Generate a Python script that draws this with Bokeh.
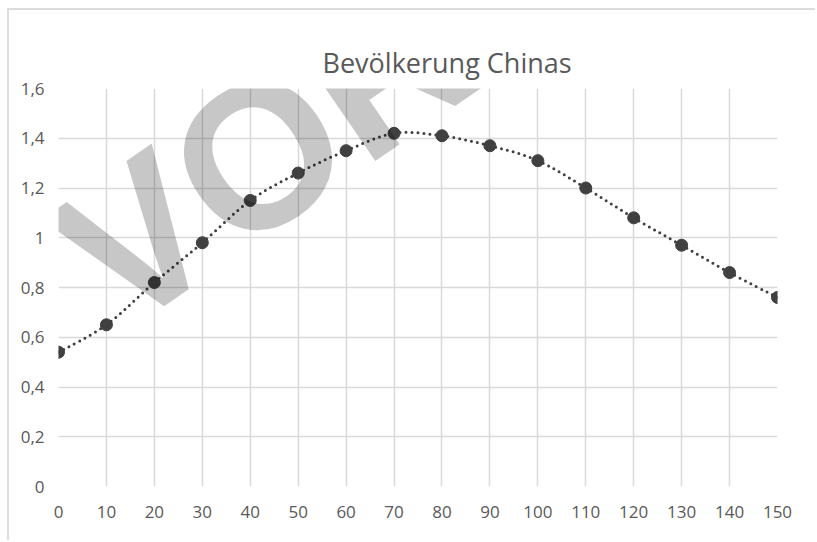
from bokeh.plotting import figure
from bokeh.models import (ColumnDataSource, FixedTicker, CustomJSTickFormatter,
                          Range1d, Label)
from bokeh.embed import file_html
from bokeh.resources import INLINE

# Bevölkerung Chinas (Mrd.) über die Jahre
jahre = [0, 10, 20, 30, 40, 50, 60, 70, 80, 90, 100, 110, 120, 130, 140, 150]
bevoelkerung = [0.54, 0.65, 0.82, 0.98, 1.15, 1.26, 1.35, 1.42, 1.41, 1.37,
                1.31, 1.20, 1.08, 0.97, 0.86, 0.76]
x_ticks = list(range(0, 151, 10))
y_ticks = [0, 0.2, 0.4, 0.6, 0.8, 1.0, 1.2, 1.4, 1.6]

FG = "#595959"
GRID = "#d9d9d9"
DARK = "#404040"

p = figure(width=808, height=532, output_backend="svg", toolbar_location=None,
           x_range=Range1d(0, 150), y_range=Range1d(0, 1.6),
           min_border_left=49, min_border_right=40, min_border_top=78,
           min_border_bottom=56, outline_line_color=None)
p.styles = {"margin-left": "7px", "margin-top": "8px",
            "border-left": "2px solid #dcdcdc", "border-top": "2px solid #dcdcdc"}

p.title.text = "Bevölkerung Chinas"
p.title.text_font = "Open Sans"
p.title.text_font_style = "normal"
p.title.text_font_size = "27px"
p.title.text_color = FG
p.title.align = "left"
p.title.offset = 264
p.title.standoff = 15

for ax in (p.xaxis[0], p.yaxis[0]):
    ax.axis_line_color = None
    ax.major_tick_line_color = None
    ax.minor_tick_line_color = None
    ax.major_label_text_font = "Open Sans"
    ax.major_label_text_font_size = "17px"
    ax.major_label_text_color = FG

p.xaxis.ticker = FixedTicker(ticks=x_ticks)
p.yaxis.ticker = FixedTicker(ticks=y_ticks)
p.xaxis.major_label_standoff = 13
p.yaxis.major_label_standoff = 8
p.yaxis.formatter = CustomJSTickFormatter(
    code="return (Math.round(tick * 10) / 10).toString().replace('.', ',');")

p.xgrid.ticker = FixedTicker(ticks=x_ticks)
p.ygrid.ticker = FixedTicker(ticks=y_ticks)
for g in (p.xgrid[0], p.ygrid[0]):
    g.grid_line_color = GRID
    g.grid_line_width = 1.5

# smoothed connecting curve: cubic Bezier segments through the data points
n = len(jahre)
x0, y0, x1, y1, cx0, cy0, cx1, cy1 = ([] for _ in range(8))
for i in range(n - 1):
    ip = max(i - 1, 0)
    inn = min(i + 2, n - 1)
    x0.append(jahre[i]); y0.append(bevoelkerung[i])
    x1.append(jahre[i + 1]); y1.append(bevoelkerung[i + 1])
    cx0.append(jahre[i] + (jahre[i + 1] - jahre[ip]) / 6)
    cy0.append(bevoelkerung[i] + (bevoelkerung[i + 1] - bevoelkerung[ip]) / 6)
    cx1.append(jahre[i + 1] - (jahre[inn] - jahre[i]) / 6)
    cy1.append(bevoelkerung[i + 1] - (bevoelkerung[inn] - bevoelkerung[i]) / 6)

curve = ColumnDataSource(dict(x0=x0, y0=y0, x1=x1, y1=y1,
                              cx0=cx0, cy0=cy0, cx1=cx1, cy1=cy1))
p.bezier(x0="x0", y0="y0", x1="x1", y1="y1", cx0="cx0", cy0="cy0",
         cx1="cx1", cy1="cy1", source=curve, line_color=DARK, line_width=3,
         line_dash="0 6", line_cap="round")

pts = ColumnDataSource(dict(x=jahre, y=bevoelkerung))
p.scatter("x", "y", source=pts, size=12, fill_color=DARK, line_color=DARK)

# preview watermark across the chart
wm = Label(x=54, y=143, x_units="screen", y_units="screen",
           x_offset=-33, y_offset=66, text="VORSCHAU",
           angle=0.602, text_font="Liberation Sans", text_font_style="bold",
           text_font_size="205px", text_color="black", text_alpha=0.22,
           text_align="left", text_baseline="alphabetic")
p.add_layout(wm)

open("out.html", "w").write(file_html(p, INLINE))
